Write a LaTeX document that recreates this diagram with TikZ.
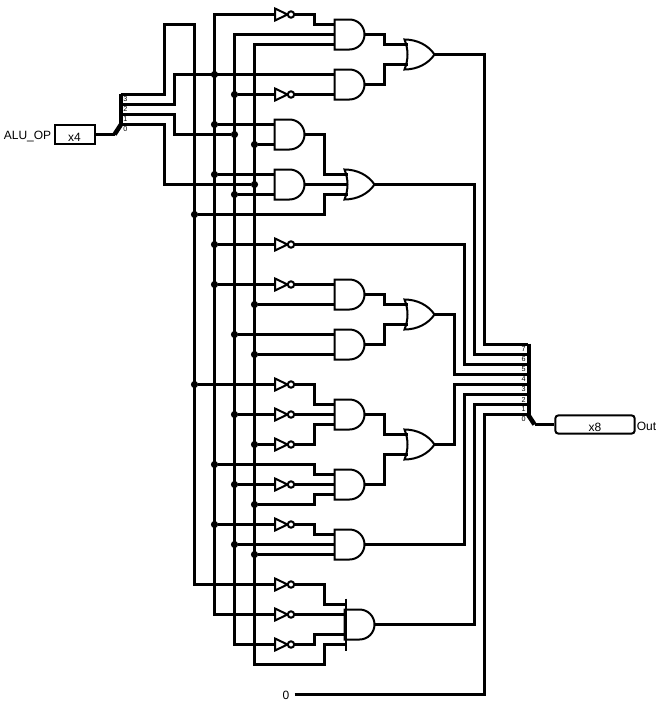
\documentclass[tikz,border=0pt]{standalone}
\usepackage{fontspec}
\setmainfont{Liberation Sans}
\tikzset{
  x=0.75pt,y=-0.75pt,
  wire/.style={line width=2.4pt,miter limit=10},
  gateline/.style={line width=1.5pt,fill=white},
  jdot/.style={circle,fill=black,inner sep=0pt,minimum size=5.4pt},
  lbl/.style={inner sep=0pt,font=\fontsize{9}{10}\selectfont},
  tiny bit/.style={inner sep=0pt,font=\fontsize{5.4}{6}\selectfont},
  pinbox/.style={draw,line width=1.5pt,fill=white,inner sep=0pt,font=\fontsize{9}{10}\selectfont},
  andg/.pic={
    \draw[gateline] (0,-15) -- (15,-15) .. controls (23.3,-15) and (30,-8.3) .. (30,0) .. controls (30,8.3) and (23.3,15) .. (15,15) -- (0,15) -- cycle;
    \coordinate (-a) at (0,-10); \coordinate (-b) at (0,0); \coordinate (-c) at (0,10); \coordinate (-o) at (30,0);
  },
  org/.pic={
    \draw[gateline] (0,-15) .. controls (13,-15) and (24,-9) .. (30,0) .. controls (24,9) and (13,15) .. (0,15) .. controls (4,5) and (4,-5) .. (0,-15) -- cycle;
    \coordinate (-a) at (3,-10); \coordinate (-b) at (3,0); \coordinate (-c) at (3,10); \coordinate (-o) at (30,0);
  },
  invg/.pic={
    \draw[gateline] (0.5,-6) -- (13,0) -- (0.5,6) -- cycle;
    \draw[gateline] (16.5,0) circle[radius=2.4pt];
    \coordinate (-i) at (0,0); \coordinate (-o) at (20,0);
  },
}
\begin{document}
\begin{tikzpicture}
\useasboundingbox (0,0) rectangle (660,707);
\begin{scope}[shift={(0.5,0.5)}]
% pins and splitters
\node[pinbox,minimum width=30pt,minimum height=13.6pt] (inbox) at (74,134) {\smash{\raisebox{-5pt}{x4}}};
\node[lbl,anchor=east] (inlabel) at (51,135.5) {ALU\_OP};
\node[pinbox,rounded corners=2.2pt,minimum width=59.5pt,minimum height=13.6pt] (outbox) at (594.5,424) {\smash{\raisebox{-5pt}{x8}}};
\node[lbl,anchor=west] (outlabel) at (636,426) {Out};
\node[lbl,anchor=east] (zero) at (289,694.5) {0};
\coordinate (zerop) at (294,694);
\coordinate (inroot) at (114,134);
\coordinate (outroot) at (534,424);
\foreach \i/\y in {3/94,2/104,1/114,0/124} \coordinate (s\i) at (120,\y);
\foreach \i/\y in {7/344,6/354,5/364,4/374,3/384,2/394,1/404,0/414} \coordinate (m\i) at (527,\y);
% gates
\foreach \n/\x/\y in {and1/334/34,and2/334/84,and3/274/134,and4/274/184,and5/334/294,and6/334/344,and7/334/414,and8/334/484,and9/334/544,and10/344/624}
  \pic (\n) at (\x,\y) {andg};
\foreach \n/\x/\y in {or1/404/54,or2/344/184,or3/404/314,or4/404/444}
  \pic (\n) at (\x,\y) {org};
\foreach \n/\y in {inv1/14,inv2/94,inv3/244,inv4/284,inv5/384,inv6/414,inv7/444,inv8/484,inv9/524,inv10/584,inv11/614,inv12/644}
  \pic (\n) at (274,\y) {invg};
\coordinate (and10-p1) at (344,604);
\coordinate (and10-p2) at (344,614);
\coordinate (and10-p3) at (344,634);
\coordinate (and10-p4) at (344,644);
% junctions
\foreach \y in {214,384} \node[jdot] (j194-\y) at (194,\y) {};
\foreach \y in {74,124,174,244,284,464,524} \node[jdot] (j214-\y) at (214,\y) {};
\foreach \y in {94,134,194,334,414,484,544} \node[jdot] (j234-\y) at (234,\y) {};
\foreach \y in {144,184,304,354,444,504,554} \node[jdot] (j254-\y) at (254,\y) {};
% buses
\draw[wire] (inbox.east) -- (inroot);
\draw[wire] (s3) -- (164,94) -- (164,24) -- (194,24) -- (194,584) -- (inv10-i);
\draw[wire] (s2) -- (174,104) -- (174,74) -- (and2-a);
\draw[wire] (and1-a) -- (314,24) -- (314,14) -- (inv1-o);
\draw[wire] (inv1-i) -- (214,14) -- (214,614) -- (inv11-i);
\draw[wire] (s1) -- (174,114) -- (174,134) -- (j234-134);
\draw[wire] (and1-b) -- (234,34) -- (234,644) -- (inv12-i);
\draw[wire] (s0) -- (164,124) -- (164,184) -- (j254-184);
\draw[wire] (and1-c) -- (254,44) -- (254,664) -- (324,664) -- (324,644) -- (and10-p4);
% top block
\draw[wire] (j234-94) -- (inv2-i);
\draw[wire] (inv2-o) -- (and2-c);
\draw[wire] (and1-o) -- (384,34) -- (384,44) -- (or1-a);
\draw[wire] (and2-o) -- (384,84) -- (384,64) -- (or1-c);
\draw[wire] (or1-o) -- (484,54) -- (484,344) -- (m7);
\draw[wire] (j214-124) -- (and3-a);
\draw[wire] (j254-144) -- (and3-c);
\draw[wire] (j214-174) -- (and4-a);
\draw[wire] (j234-194) -- (and4-c);
\draw[wire] (and3-o) -- (324,134) -- (324,174) -- (or2-a);
\draw[wire] (and4-o) -- (or2-b);
\draw[wire] (j194-214) -- (324,214) -- (324,194) -- (or2-c);
\draw[wire] (or2-o) -- (474,184) -- (474,354) -- (m6);
% middle
\draw[wire] (j214-244) -- (inv3-i);
\draw[wire] (inv3-o) -- (464,244) -- (464,364) -- (m5);
\draw[wire] (j214-284) -- (inv4-i);
\draw[wire] (inv4-o) -- (and5-a);
\draw[wire] (j254-304) -- (and5-c);
\draw[wire] (j234-334) -- (and6-a);
\draw[wire] (j254-354) -- (and6-c);
\draw[wire] (and5-o) -- (384,294) -- (384,304) -- (or3-a);
\draw[wire] (and6-o) -- (384,344) -- (384,324) -- (or3-c);
\draw[wire] (or3-o) -- (454,314) -- (454,374) -- (m4);
% lower
\draw[wire] (j194-384) -- (inv5-i);
\draw[wire] (inv5-o) -- (314,384) -- (314,404) -- (and7-a);
\draw[wire] (j234-414) -- (inv6-i);
\draw[wire] (inv6-o) -- (and7-b);
\draw[wire] (j254-444) -- (inv7-i);
\draw[wire] (inv7-o) -- (314,444) -- (314,424) -- (and7-c);
\draw[wire] (j214-464) -- (314,464) -- (314,474) -- (and8-a);
\draw[wire] (j234-484) -- (inv8-i);
\draw[wire] (inv8-o) -- (and8-b);
\draw[wire] (j254-504) -- (314,504) -- (314,494) -- (and8-c);
\draw[wire] (and7-o) -- (384,414) -- (384,434) -- (or4-a);
\draw[wire] (and8-o) -- (384,484) -- (384,454) -- (or4-c);
\draw[wire] (or4-o) -- (454,444) -- (454,384) -- (m3);
\draw[wire] (j214-524) -- (inv9-i);
\draw[wire] (inv9-o) -- (314,524) -- (314,534) -- (and9-a);
\draw[wire] (j234-544) -- (and9-b);
\draw[wire] (j254-554) -- (and9-c);
\draw[wire] (and9-o) -- (464,544) -- (464,394) -- (m2);
% bottom
\draw[wire] (inv10-o) -- (324,584) -- (324,604) -- (and10-p1);
\draw[wire] (inv11-o) -- (and10-p2);
\draw[wire] (inv12-o) -- (314,644) -- (314,634) -- (and10-p3);
\draw[gateline] (345,598) -- (345,650);
\draw[wire] (and10-o) -- (474,624) -- (474,404) -- (m1);
\draw[wire] (zerop) -- (484,694) -- (484,414) -- (m0);
% splitters
\draw[line width=3pt] (120,93) -- (120,125);
\draw[line width=3.4pt] (120.5,124) -- (114,134);
\draw[line width=3pt] (528,343) -- (528,415);
\draw[line width=3.4pt] (527.5,414) -- (534,424);
\draw[wire] (outroot) -- (outbox.west);
% bit labels
\foreach \t/\y in {3/98.5,2/108.5,1/118.5,0/128.5} \node[tiny bit] (lo\t) at (125,\y) {\t};
\foreach \t/\y in {7/349,6/359,5/369,4/379,3/389,2/399,1/409,0/418.5} \node[tiny bit] (ro\t) at (523,\y) {\t};
\end{scope}
\end{tikzpicture}
\end{document}
